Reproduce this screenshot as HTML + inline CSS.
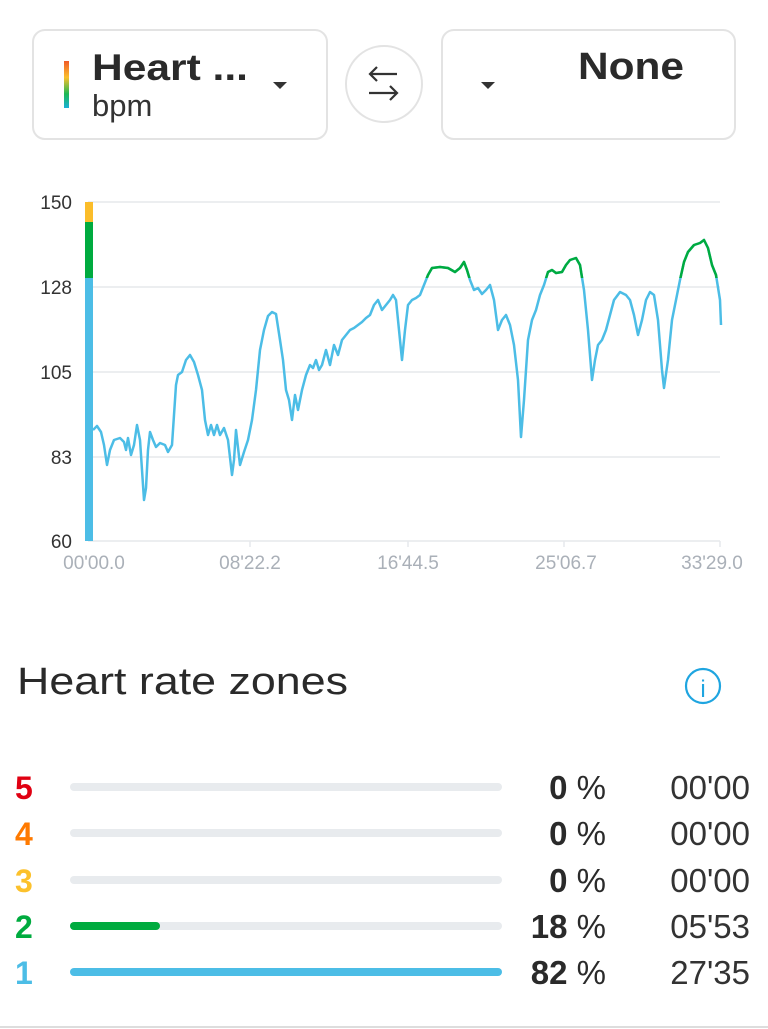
<!DOCTYPE html>
<html><head><meta charset="utf-8"><style>
html,body{margin:0;padding:0;background:#fff;width:768px;height:1029px;overflow:hidden}
svg{display:block}
text{font-family:"Liberation Sans",sans-serif}
</style></head><body>
<svg width="768" height="1029" viewBox="0 0 768 1029">
<defs>
<linearGradient id="g" x1="0" y1="0" x2="0" y2="1">
<stop offset="0" stop-color="#f05a28"/><stop offset="0.35" stop-color="#fbc02d"/><stop offset="0.7" stop-color="#1db954"/><stop offset="1" stop-color="#1ab0d8"/></linearGradient>
<clipPath id="top"><rect x="80" y="190" width="660" height="88"/></clipPath>
<polyline id="ln" fill="none" stroke-width="2.5" stroke-linejoin="round" points="93,430 97,426 101,432 104,445 107,465 110,450 114,440 120,438 124,442 126,450 128,438 131,455 134,445 137,425 140,440 142,470 144,500 146,488 148,450 150,432 153,440 156,447 160,443 165,445 168,452 172,445 176,385 178,375 182,372 186,360 190,355 194,362 198,375 202,390 205,420 208,435 211,425 214,435 217,425 220,435 224,428 228,440 232,475 234,460 236,430 240,465 244,452 248,440 252,420 256,390 260,350 264,330 268,316 272,312 276,314 280,340 283,360 286,390 289,400 292,420 295,395 298,410 302,390 306,375 310,365 313,368 316,360 319,370 322,365 326,350 330,365 334,345 338,355 342,340 346,335 350,330 354,328 358,325 362,322 366,318 370,315 374,305 378,300 382,310 386,305 390,300 393,295 396,300 399,330 402,360 405,330 408,305 412,300 416,298 420,295 424,285 428,275 432,268 440,267 448,268 455,272 460,268 464,262 467,270 470,280 474,290 478,288 482,294 486,290 490,285 494,300 498,330 502,320 506,315 510,325 514,345 518,380 521,437 524,400 528,340 532,320 536,310 540,295 544,285 548,272 552,270 556,273 562,272 566,265 570,260 576,258 580,265 584,290 588,330 592,380 595,360 598,345 602,340 606,330 610,315 614,300 620,292 626,295 630,300 634,315 638,335 642,320 646,300 650,292 654,295 658,320 662,370 664,388 668,360 672,320 676,300 680,280 684,262 688,252 694,245 700,243 704,240 708,248 712,265 716,275 720,300 721,325"/>
</defs>
<rect x="33" y="30" width="294" height="109" rx="12" fill="#fff" stroke="#e3e3e3" stroke-width="2"/>
<rect x="64" y="61" width="5" height="47" fill="url(#g)"/>
<text x="92" y="80" font-size="37" font-weight="bold" fill="#2a2a2a" textLength="156" lengthAdjust="spacingAndGlyphs">Heart ...</text>
<text x="92" y="116" font-size="31" fill="#333">bpm</text>
<path d="M273 82 L287 82 L280 89 Z" fill="#333"/>
<ellipse cx="384" cy="84" rx="38" ry="38" fill="#fff" stroke="#e3e3e3" stroke-width="2"/>
<path d="M397 74 L370 74 M377 67 L370 74 L377 81" stroke="#333" stroke-width="2.2" fill="none"/>
<path d="M369 93 L397 93 M390 86 L397 93 L390 100" stroke="#333" stroke-width="2.2" fill="none"/>
<rect x="442" y="30" width="293" height="109" rx="12" fill="#fff" stroke="#e3e3e3" stroke-width="2"/>
<path d="M481 82 L495 82 L488 89 Z" fill="#333"/>
<text x="578" y="79" font-size="38" font-weight="bold" fill="#2a2a2a" textLength="106" lengthAdjust="spacingAndGlyphs">None</text>
<g stroke="#e6e8ec" stroke-width="1.5">
<line x1="88" y1="202" x2="720" y2="202"/><line x1="88" y1="287" x2="720" y2="287"/>
<line x1="88" y1="372" x2="720" y2="372"/><line x1="88" y1="457" x2="720" y2="457"/>
<line x1="88" y1="541" x2="720" y2="541"/>
<line x1="250" y1="541" x2="250" y2="547"/><line x1="408" y1="541" x2="408" y2="547"/><line x1="564" y1="541" x2="564" y2="547"/><line x1="720" y1="541" x2="720" y2="547"/>
</g>
<g font-size="19" fill="#333" text-anchor="end">
<text x="72" y="209">150</text><text x="72" y="294">128</text><text x="72" y="379">105</text><text x="72" y="464">83</text><text x="72" y="548">60</text>
</g>
<g font-size="19" fill="#aab0b8" text-anchor="middle">
<text x="94" y="569">00'00.0</text><text x="250" y="569">08'22.2</text><text x="408" y="569">16'44.5</text><text x="566" y="569">25'06.7</text><text x="712" y="569">33'29.0</text>
</g>
<rect x="85" y="202" width="8" height="20" fill="#fbbd2a"/>
<rect x="85" y="222" width="8" height="56" fill="#00ab3f"/>
<rect x="85" y="278" width="8" height="263" fill="#4cbde6"/>
<use href="#ln" stroke="#4cbde6"/>
<g clip-path="url(#top)"><use href="#ln" stroke="#00ab3f"/></g>
<text x="17" y="694" font-size="38" fill="#2a2a2a" textLength="331" lengthAdjust="spacingAndGlyphs">Heart rate zones</text>
<circle cx="703" cy="686" r="17" fill="none" stroke="#1fa5e0" stroke-width="2.2"/>
<text x="703" y="697" font-size="24" fill="#1fa5e0" text-anchor="middle">i</text>
<g stroke-linecap="round" stroke-width="8">
<line x1="74" y1="787" x2="498" y2="787" stroke="#e8ebee"/>
<line x1="74" y1="833" x2="498" y2="833" stroke="#e8ebee"/>
<line x1="74" y1="880" x2="498" y2="880" stroke="#e8ebee"/>
<line x1="74" y1="926" x2="498" y2="926" stroke="#e8ebee"/>
<line x1="74" y1="926" x2="156" y2="926" stroke="#00ab3f"/>
<line x1="74" y1="972" x2="498" y2="972" stroke="#4cbde6"/>
</g>
<g font-size="32" font-weight="bold">
<text x="15" y="799" fill="#e00012">5</text>
<text x="15" y="845" fill="#ff7a00">4</text>
<text x="15" y="892" fill="#fcc12c">3</text>
<text x="15" y="938" fill="#00ab3f">2</text>
<text x="15" y="984" fill="#4cbde6">1</text>
</g>
<g font-size="33" fill="#2a2a2a" text-anchor="end">
<text x="606" y="799"><tspan font-weight="bold">0</tspan> %</text>
<text x="606" y="845"><tspan font-weight="bold">0</tspan> %</text>
<text x="606" y="892"><tspan font-weight="bold">0</tspan> %</text>
<text x="606" y="938"><tspan font-weight="bold">18</tspan> %</text>
<text x="606" y="984"><tspan font-weight="bold">82</tspan> %</text>
</g>
<g font-size="33" fill="#333" text-anchor="end">
<text x="750" y="799">00'00</text>
<text x="750" y="845">00'00</text>
<text x="750" y="892">00'00</text>
<text x="750" y="938">05'53</text>
<text x="750" y="984">27'35</text>
</g>
<line x1="0" y1="1027" x2="768" y2="1027" stroke="#ddd" stroke-width="2"/>
</svg>
</body></html>
